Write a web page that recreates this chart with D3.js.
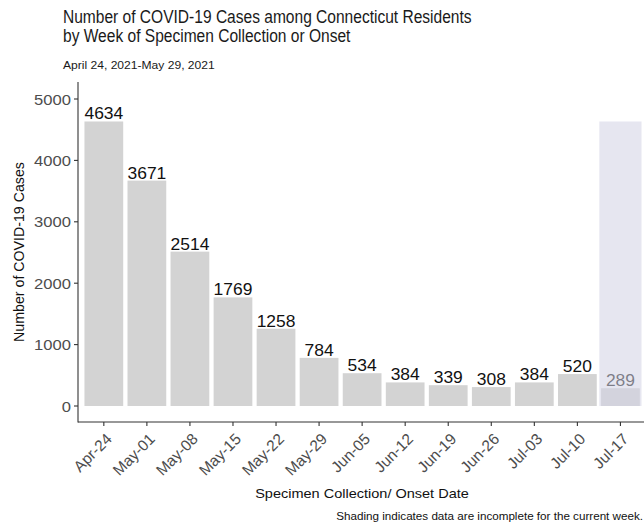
<!DOCTYPE html>
<html>
<head>
<meta charset="utf-8">
<script src="https://cdn.jsdelivr.net/npm/d3@7"></script>
<style>
  html, body { margin: 0; padding: 0; background: #fff; }
  svg { display: block; font-family: "Liberation Sans", Arial, sans-serif; }
</style>
</head>
<body>
<svg id="chart" width="644" height="529"></svg>
<script>
const weeks = ["Apr-24","May-01","May-08","May-15","May-22","May-29","Jun-05","Jun-12","Jun-19","Jun-26","Jul-03","Jul-10","Jul-17"];
const cases = [4634, 3671, 2514, 1769, 1258, 784, 534, 384, 339, 308, 384, 520, 289];
const yTicks = [0, 1000, 2000, 3000, 4000, 5000];
const incompleteWeeks = ["Jul-17"];

const titleLines = ["Number of COVID-19 Cases among Connecticut Residents", "by Week of Specimen Collection or Onset"];
const subtitle = "April 24, 2021-May 29, 2021";
const yTitle = "Number of COVID-19 Cases";
const xTitle = "Specimen Collection/ Onset Date";
const caption = "Shading indicates data are incomplete for the current week.";

const svg = d3.select("#chart");
const SX = 1.07;

const panel = {left: 78, top: 82, bottom: 422};
const step = 43.05;
const x = d3.scaleBand().domain(weeks)
  .range([panel.left, panel.left + step * (weeks.length + 0.2)])
  .paddingInner(0.1).paddingOuter(0.15);
const y = d3.scaleLinear().domain([0, 5000]).range([406, 99]);

function stretchedText(sel, tx, ty, sx) {
  return sel.attr("transform", `translate(${tx},${ty}) scale(${sx},1)`);
}

// bars
svg.append("g").selectAll("rect").data(weeks).join("rect")
  .attr("x", d => x(d)).attr("width", x.bandwidth())
  .attr("y", (d, i) => y(cases[i]))
  .attr("height", (d, i) => y(0) - y(cases[i]))
  .attr("fill", "#d3d3d3");

// value labels
svg.append("g").selectAll("text").data(weeks).join("text")
  .each(function(d, i) {
    stretchedText(d3.select(this), x(d) + x.bandwidth() / 2, y(cases[i]) - 2, SX);
  })
  .attr("text-anchor", "middle")
  .attr("font-size", 16.3)
  .attr("fill", "#111")
  .text((d, i) => cases[i]);

// shading for incomplete week
const maxCases = d3.max(cases);
svg.append("g").selectAll("rect").data(incompleteWeeks).join("rect")
  .attr("x", d => x(d) + x.bandwidth() / 2 - step * 0.49)
  .attr("width", step * 0.98)
  .attr("y", y(maxCases))
  .attr("height", y(0) - y(maxCases))
  .attr("fill", "rgb(210,210,228)")
  .attr("fill-opacity", 0.56);

// axes lines
const axisColor = "#333";
svg.append("line").attr("x1", panel.left).attr("x2", panel.left)
  .attr("y1", panel.top).attr("y2", panel.bottom + 0.5)
  .attr("stroke", axisColor).attr("stroke-width", 1.1);
svg.append("line").attr("x1", panel.left).attr("x2", 644)
  .attr("y1", panel.bottom).attr("y2", panel.bottom)
  .attr("stroke", axisColor).attr("stroke-width", 1.1);

// y ticks
const yg = svg.append("g");
yg.selectAll("line").data(yTicks).join("line")
  .attr("x1", panel.left - 4).attr("x2", panel.left)
  .attr("y1", d => y(d)).attr("y2", d => y(d))
  .attr("stroke", axisColor).attr("stroke-width", 1.1);
yg.selectAll("text").data(yTicks).join("text")
  .each(function(d) { stretchedText(d3.select(this), panel.left - 7, y(d) + 5.5, SX); })
  .attr("text-anchor", "end")
  .attr("font-size", 15.5)
  .attr("fill", "#4d4d4d")
  .text(d => d);

// x ticks
const xg = svg.append("g");
xg.selectAll("line").data(weeks).join("line")
  .attr("x1", d => x(d) + x.bandwidth() / 2).attr("x2", d => x(d) + x.bandwidth() / 2)
  .attr("y1", panel.bottom).attr("y2", panel.bottom + 4)
  .attr("stroke", axisColor).attr("stroke-width", 1.1);
xg.selectAll("text").data(weeks).join("text")
  .attr("transform", d => `translate(${x(d) + x.bandwidth() / 2 + 9},${panel.bottom + 18}) rotate(-45)`)
  .attr("text-anchor", "end")
  .attr("font-size", 15.5)
  .attr("fill", "#4d4d4d")
  .text(d => d);

// titles
const tg = svg.append("g").attr("fill", "#1a1a1a");
titleLines.forEach((t, i) => {
  stretchedText(tg.append("text"), 63, 23 + i * 19.2, 0.85)
    .attr("font-size", 18.3).text(t);
});
stretchedText(tg.append("text"), 63, 68.5, SX).attr("font-size", 11.3).text(subtitle);

// axis titles
svg.append("text")
  .attr("transform", `translate(24,${(panel.top + panel.bottom) / 2}) rotate(-90)`)
  .attr("text-anchor", "middle").attr("font-size", 14.2).attr("fill", "#111")
  .text(yTitle);
stretchedText(svg.append("text"), 362, 498, 1.1)
  .attr("text-anchor", "middle").attr("font-size", 13.2).attr("fill", "#111")
  .text(xTitle);
stretchedText(svg.append("text"), 643, 519.5, 1.1)
  .attr("text-anchor", "end").attr("font-size", 10.6).attr("fill", "#111")
  .text(caption);
</script>
</body>
</html>
